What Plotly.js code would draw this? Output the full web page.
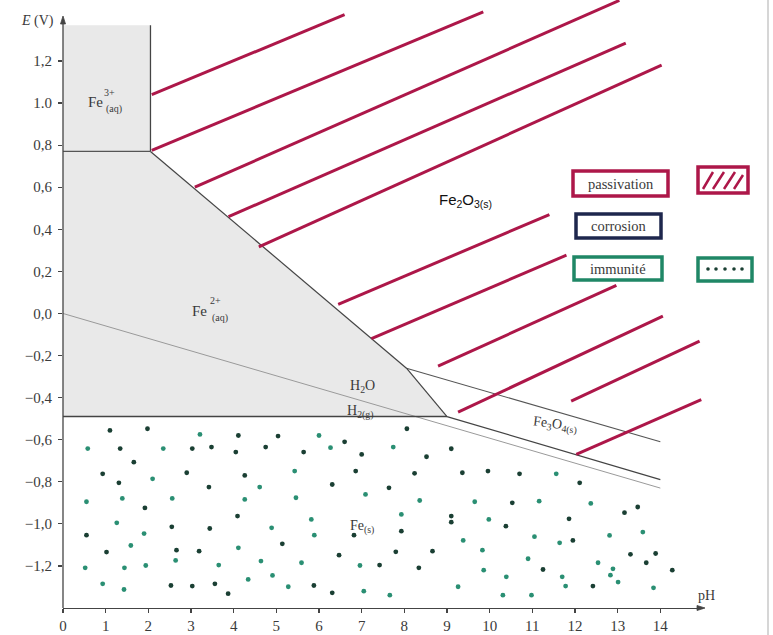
<!DOCTYPE html>
<html><head><meta charset="utf-8">
<script src="https://cdn.plot.ly/plotly-3.0.1.min.js"></script>
<style>html,body{margin:0;padding:0;background:#fff}#chart{width:773px;height:635px}</style>
</head><body><div id="chart"></div>
<script>
// ---- tick labels ----
const xTickVals = [0,1,2,3,4,5,6,7,8,9,10,11,12,13,14];
const xTickText = ['0','1','2','3','4','5','6','7','8','9','10','11','12','13','14'];
const yTickVals = [1.2,1.0,0.8,0.6,0.4,0.2,0,-0.2,-0.4,-0.6,-0.8,-1.0,-1.2];
const yTickText = ['1,2','1.0','0,8','0,6','0,4','0,2','0,0','\u22120,2','\u22120,4','\u22120,6','\u22120,8','\u22121,0','\u22121,2'];

// ---- domains (pH, E) ----
const fe3RegionPH = [0, 2.05, 2.05, 0];
const fe3RegionE  = [0.77, 0.77, 1.37, 1.37];
const fe2RegionPH = [0, 2.05, 8.05, 9.0, 0];
const fe2RegionE  = [0.77, 0.77, -0.26, -0.49, -0.49];

// ---- boundary lines ----
const fe3Fe2PH = [0, 2.05],      fe3Fe2E = [0.77, 0.77];
const fe3Fe2o3PH = [2.05, 2.05], fe3Fe2o3E = [0.77, 1.37];
const fe2Fe2o3PH = [2.05, 8.05], fe2Fe2o3E = [0.77, -0.26];
const fe2Fe3o4PH = [8.05, 9.0],  fe2Fe3o4E = [-0.26, -0.49];
const fe2FePH = [0, 9.0],        fe2FeE = [-0.49, -0.49];
const fe3o4Fe2o3PH = [8.05, 14.0], fe3o4Fe2o3E = [-0.26, -0.61];
const feFe3o4PH = [9.0, 14.0],   feFe3o4E = [-0.49, -0.79];
const waterPH = [0, 14.0],       waterE = [0, -0.83];

// ---- hand-drawn hatching (passivation) ----
const hatchStartPH = [2.08, 2.08, 3.09, 3.88, 4.59, 6.45, 7.23, 8.79, 9.26, 11.91, 12.03];
const hatchStartE  = [1.04, 0.775, 0.60, 0.46, 0.317, 0.043, -0.12, -0.25, -0.469, -0.417, -0.67];
const hatchEndPH   = [6.60, 9.85, 13.04, 13.19, 14.03, 11.40, 11.80, 12.97, 14.06, 14.92, 14.96];
const hatchEndE    = [1.42, 1.433, 1.488, 1.285, 1.18, 0.47, 0.277, 0.133, -0.013, -0.131, -0.409];

// ---- hand-drawn dots (immunité) ----
const tealDotsPH = [3.21,6.00,0.58,2.35,6.27,7.74,2.10,4.61,5.43,0.55,1.39,2.56,4.26,5.46,7.09,1.26,4.89,5.82,5.89,1.90,1.59,4.11,0.52,1.44,1.94,2.64,3.65,4.64,5.59,6.96,0.93,1.43,4.34,4.91,5.28,7.05,7.66,11.56,8.36,9.65,11.16,12.37,7.93,9.98,13.59,9.38,11.05,11.64,12.81,9.83,10.90,12.54,9.86,12.89,10.39,11.70,12.83,13.01,9.26,11.78,13.84,10.31,10.98];
const tealDotsE  = [-0.575,-0.580,-0.642,-0.642,-0.638,-0.635,-0.786,-0.825,-0.749,-0.895,-0.879,-0.879,-0.884,-0.876,-0.860,-0.995,-1.019,-0.979,-1.054,-1.046,-1.103,-1.114,-1.209,-1.209,-1.198,-1.174,-1.196,-1.177,-1.185,-1.198,-1.285,-1.312,-1.264,-1.245,-1.299,-1.320,-1.339,-0.762,-0.889,-0.895,-0.892,-0.903,-0.955,-0.979,-1.039,-1.079,-1.061,-1.090,-1.055,-1.125,-1.166,-1.185,-1.220,-1.214,-1.252,-1.252,-1.244,-1.277,-1.299,-1.296,-1.304,-1.339,-1.339];
const darkDotsPH = [1.10,1.98,4.11,5.04,6.60,1.34,3.03,3.48,4.05,4.75,5.64,7.00,1.66,0.93,1.31,2.90,3.42,4.26,6.31,6.86,7.64,1.92,2.55,4.09,3.44,0.55,6.82,1.02,2.66,3.19,5.14,6.47,7.80,7.42,2.53,3.03,3.56,3.87,5.88,6.31,8.06,8.52,9.10,8.24,9.36,9.96,10.70,12.11,10.53,13.16,13.47,9.10,9.10,10.38,11.86,7.93,11.95,8.66,13.30,13.67,13.89,8.34,11.25,14.28,12.42];
const darkDotsE  = [-0.556,-0.548,-0.580,-0.583,-0.610,-0.642,-0.642,-0.635,-0.659,-0.635,-0.659,-0.670,-0.707,-0.762,-0.805,-0.757,-0.825,-0.770,-0.813,-0.749,-0.829,-0.924,-1.014,-0.963,-1.022,-1.054,-1.054,-1.134,-1.125,-1.130,-1.095,-1.149,-1.133,-1.196,-1.293,-1.296,-1.285,-1.332,-1.293,-1.328,-0.548,-0.681,-0.643,-0.760,-0.757,-0.749,-0.762,-0.805,-0.900,-0.947,-0.920,-0.963,-0.992,-1.011,-0.976,-1.035,-1.079,-1.130,-1.145,-1.185,-1.141,-1.209,-1.217,-1.220,-1.296];

// ---- legend labels ----
const legendLabels = ['passivation', 'corrosion', 'immunit\u00e9'];

// ---------------------------------------------------------------
const M = {l: 63, r: 70, t: 0, b: 27};
const W = 773, H = 635;
const PW = W - M.l - M.r, PH = H - M.t - M.b;
const X = px => (px - M.l) / PW;          // pixel -> paper
const Y = py => (H - M.b - py) / PH;

const crimson = '#ad1749', navy = '#1e274d', green = '#1f8766';
const teal = '#2a8f73', darkDot = '#1a3f33';
const ink = '#3a3a3a';
const serif = 'Liberation Serif, DejaVu Serif, serif';

function seg(xs, ys, color, width, dash) {
  return {type: 'scatter', mode: 'lines', x: xs, y: ys, hoverinfo: 'skip',
          line: {color: color, width: width, dash: dash || 'solid'}, showlegend: false};
}
const hx = [], hy = [];
hatchStartPH.forEach((v, i) => { hx.push(v, hatchEndPH[i], null); hy.push(hatchStartE[i], hatchEndE[i], null); });

const traces = [
  {type:'scatter', mode:'lines', x: fe3RegionPH, y: fe3RegionE, fill:'toself', fillcolor:'#e9e9e9', line:{width:0}, hoverinfo:'skip', showlegend:false},
  {type:'scatter', mode:'lines', x: fe2RegionPH, y: fe2RegionE, fill:'toself', fillcolor:'#e9e9e9', line:{width:0}, hoverinfo:'skip', showlegend:false},
  seg(waterPH, waterE, '#9a9a9a', 1),
  seg(fe3o4Fe2o3PH, fe3o4Fe2o3E, '#555', 1.1),
  seg(feFe3o4PH, feFe3o4E, '#444', 1.2),
  seg(fe3Fe2PH, fe3Fe2E, '#555', 1.3),
  seg(fe3Fe2o3PH, fe3Fe2o3E, '#444', 1.3),
  seg(fe2Fe2o3PH, fe2Fe2o3E, '#444', 1.2),
  seg(fe2Fe3o4PH, fe2Fe3o4E, '#444', 1.2),
  seg(fe2FePH, fe2FeE, '#444', 1.4),
  {type:'scatter', mode:'lines', x: hx, y: hy, line:{color: crimson, width: 3}, hoverinfo:'skip', showlegend:false, connectgaps:false},
  {type:'scatter', mode:'markers', x: tealDotsPH, y: tealDotsE, marker:{color: teal, size: 4.8}, hoverinfo:'skip', showlegend:false},
  {type:'scatter', mode:'markers', x: darkDotsPH, y: darkDotsE, marker:{color: darkDot, size: 4.8}, hoverinfo:'skip', showlegend:false}
];

function ann(x, y, text, size, extra) {
  return Object.assign({x: x, y: y, xref:'x', yref:'y', text: text, showarrow:false,
    xanchor:'center', yanchor:'middle',
    font:{family: serif, size: size, color: ink}}, extra || {});
}
function pann(px, py, text, size) {
  return {xref:'paper', yref:'paper', x: X(px), y: Y(py), text: text, showarrow:false,
    xanchor:'center', yanchor:'middle', font:{family: serif, size: size, color: ink}};
}
const annotations = [
  ann(0.75, 1.005, 'Fe', 15),
  ann(1.09, 1.05, '3+', 10),
  ann(1.19, 0.972, '(aq)', 10),
  ann(3.21, 0.012, 'Fe', 15),
  ann(3.57, 0.06, '2+', 10),
  ann(3.68, -0.022, '(aq)', 10),
  ann(7.03, -0.345, 'H<sub>2</sub>O', 14),
  ann(6.96, -0.47, 'H<sub>2(g)</sub>', 14),
  ann(11.52, -0.53, 'Fe<sub>3</sub>O<sub>4(s)</sub>', 14, {textangle: 7}),
  ann(7.0, -1.015, 'Fe<sub>(s)</sub>', 14),
  ann(9.44, 0.535, 'Fe<sub>2</sub>O<sub>3(s)</sub>', 15, {font:{family:'Liberation Sans, Arial, sans-serif', size:15, color:'#111'}}),
  pann(706, 595, 'pH', 14),
  pann(37, 21, '<i>E</i> (V)', 14),
  pann(620.5, 183.5, legendLabels[0], 14.5),
  pann(618.5, 226, legendLabels[1], 14.5),
  pann(618, 268.5, legendLabels[2], 14.5)
];

function box(x0, y0, x1, y1, color) {
  return {type:'rect', xref:'paper', yref:'paper', x0: X(x0), x1: X(x1), y0: Y(y0), y1: Y(y1),
          line:{color: color, width: 3.5}, fillcolor:'rgba(255,255,255,0)'};
}
function pathP(pts) {
  return pts.map((p, i) => (i === 0 ? 'M ' : 'L ') + X(p[0]) + ' ' + Y(p[1])).join(' ');
}
const shapes = [
  {type:'line', xref:'paper', yref:'y', x0:0, x1:0, y0:-1.4, y1:1.38, line:{color:'#444', width:1.3}},
  {type:'path', xref:'paper', yref:'paper', path: pathP([[60.5,24],[63,16],[65.5,24]]) + ' Z', fillcolor:'#444', line:{color:'#444', width:0.8}},
  {type:'path', xref:'paper', yref:'paper', path: pathP([[697,605.5],[705,608],[697,610.5]]) + ' Z', fillcolor:'#444', line:{color:'#444', width:0.8}},
  box(573, 171, 668, 196, crimson),
  box(576, 214, 661, 238, navy),
  box(574, 257, 662, 280, green),
  box(698, 167, 748, 193, crimson),
  box(698, 258, 752, 281, green),
  {type:'path', xref:'paper', yref:'paper', line:{color: crimson, width: 2.5},
   path: pathP([[703,189],[713,172]]) + ' ' + pathP([[713,189],[724,172]]) + ' ' + pathP([[724,189],[735,172]]) + ' ' + pathP([[734,189],[743,175]])},
  {type:'line', xref:'paper', yref:'paper', x0: X(768), x1: X(768), y0: Y(0), y1: Y(635), line:{color:'#d6d6d6', width:2}}
];
[708, 716, 725, 734, 742].forEach(px => {
  shapes.push({type:'circle', xref:'paper', yref:'paper', x0: X(px - 1.8), x1: X(px + 1.8), y0: Y(269 + 1.8), y1: Y(269 - 1.8),
               fillcolor: darkDot, line:{width:0}});
});

const layout = {
  width: W, height: H, margin: M,
  paper_bgcolor:'#ffffff', plot_bgcolor:'rgba(0,0,0,0)',
  showlegend:false,
  xaxis: {range:[0,15], showgrid:false, zeroline:false, showline:true, linecolor:'#444', linewidth:1.3,
          ticks:'outside', ticklen:4, tickcolor:'#444', tickwidth:1.2,
          tickvals: xTickVals, ticktext: xTickText, tickfont:{family: serif, size:15, color: ink}, fixedrange:true},
  yaxis: {range:[-1.4,1.49], showgrid:false, zeroline:false, showline:false,
          ticks:'outside', ticklen:4, tickcolor:'#444', tickwidth:1.2, ticklabelstandoff: 3,
          tickvals: yTickVals, ticktext: yTickText, tickfont:{family: serif, size:15, color: ink}, fixedrange:true},
  annotations: annotations,
  shapes: shapes
};
Plotly.newPlot('chart', traces, layout, {staticPlot:true, displayModeBar:false});
</script>
</body></html>
